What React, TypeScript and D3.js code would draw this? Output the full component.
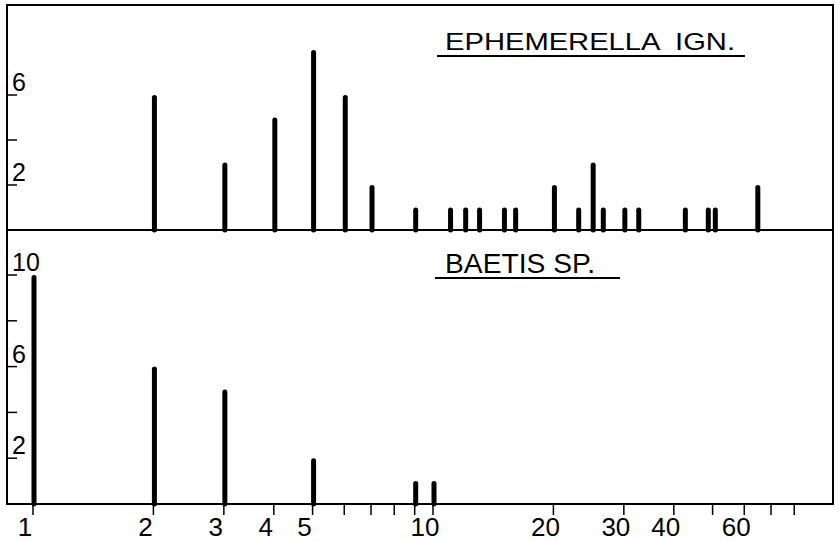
import React, { useRef, useEffect } from 'react';
import * as d3 from 'd3';

// top panel: Ephemerella ign.
const ephSize = [2, 3, 4, 5, 6, 7, 9, 11, 12, 13, 15, 16, 20, 23, 25, 26.5, 30, 32.5, 42.5, 48.5, 50.5, 64.5];
const ephCount = [6, 3, 5, 8, 6, 2, 1, 1, 1, 1, 1, 1, 2, 1, 3, 1, 1, 1, 1, 1, 1, 2];

// bottom panel: Baetis sp.
const baeSize = [1, 2, 3, 5, 9, 10];
const baeCount = [10, 6, 5, 2, 1, 1];

const xTicks = [1, 2, 3, 4, 5, 6, 7, 8, 9, 10, 20, 30, 40, 50, 60, 70, 80];
const xLabels = [1, 2, 3, 4, 5, 10, 20, 30, 40, 60];
const topTicks = [2, 4, 6];
const topLabels = [2, 6];
const botTicks = [2, 4, 6, 8, 10];
const botLabels = [2, 6, 10];

const W = 840, H = 541;
const FONT = '"Liberation Sans", Arial, sans-serif';

const App = () => {
  const svgRef = useRef<SVGSVGElement>(null);

  useEffect(() => {
    document.body.style.margin = '0';
    const svg = d3.select(svgRef.current);
    svg.selectAll('*').remove();

    const left = 7, right = 833, top = 5, mid = 230, bottom = 504;

    const x = d3.scaleLog().domain([1, 100]).range([33, 833]);
    const yTop = d3.scaleLinear().domain([0, 10]).range([mid, top]);
    const yBot = d3.scaleLinear().domain([0, 10]).range([bottom, 275]);

    // frame
    svg.append('rect')
      .attr('x', left).attr('y', top)
      .attr('width', right - left).attr('height', bottom - top)
      .attr('fill', 'none').attr('stroke', '#000').attr('stroke-width', 2);
    svg.append('line')
      .attr('x1', left).attr('x2', right).attr('y1', mid).attr('y2', mid)
      .attr('stroke', '#000').attr('stroke-width', 2);

    const drawBars = (sizes, counts, y, base) => {
      svg.append('g').selectAll('line')
        .data(sizes)
        .join('line')
        .attr('x1', d => x(d) + 1).attr('x2', d => x(d) + 1)
        .attr('y1', base)
        .attr('y2', (d, i) => y(counts[i]) + 2.5)
        .attr('stroke', '#000').attr('stroke-width', 5)
        .attr('stroke-linecap', 'round');
    };
    drawBars(ephSize, ephCount, yTop, mid);
    drawBars(baeSize, baeCount, yBot, bottom);

    // y ticks, drawn inward
    const drawY = (ticks, labels, y) => {
      const g = svg.append('g');
      g.selectAll('line').data(ticks).join('line')
        .attr('x1', left).attr('x2', left + 10)
        .attr('y1', d => y(d)).attr('y2', d => y(d))
        .attr('stroke', '#000').attr('stroke-width', 1.5);
      g.selectAll('text').data(labels).join('text')
        .attr('x', left + 5).attr('y', d => y(d) - 4)
        .attr('font-family', FONT).attr('font-size', 25)
        .text(d => d);
    };
    drawY(topTicks, topLabels, yTop);
    drawY(botTicks, botLabels, yBot);

    // x axis ticks + labels
    const xa = svg.append('g');
    xa.selectAll('line').data(xTicks).join('line')
      .attr('x1', d => x(d)).attr('x2', d => x(d))
      .attr('y1', bottom).attr('y2', bottom + 11)
      .attr('stroke', '#000').attr('stroke-width', 1.5);
    xa.selectAll('text').data(xLabels).join('text')
      .attr('x', d => x(d) - 8).attr('y', 536)
      .attr('text-anchor', 'middle')
      .attr('font-family', FONT).attr('font-size', 26)
      .text(d => d);

    // panel titles, underlined
    const title = (label, tx, ty, len, ux1, ux2, uy, size) => {
      svg.append('text')
        .attr('x', tx).attr('y', ty)
        .attr('font-family', FONT).attr('font-size', size)
        .attr('textLength', len).attr('lengthAdjust', 'spacingAndGlyphs')
        .style('white-space', 'pre')
        .text(label);
      svg.append('line')
        .attr('x1', ux1).attr('x2', ux2).attr('y1', uy).attr('y2', uy)
        .attr('stroke', '#000').attr('stroke-width', 2);
    };
    title('EPHEMERELLA  IGN.', 445, 50, 290, 437, 745, 56, 24);
    title('BAETIS SP.', 445, 273, 150, 435, 620, 278, 27);
  }, []);

  return <svg ref={svgRef} width={W} height={H} style={{ display: 'block', background: '#fff' }} />;
};

export default App;
